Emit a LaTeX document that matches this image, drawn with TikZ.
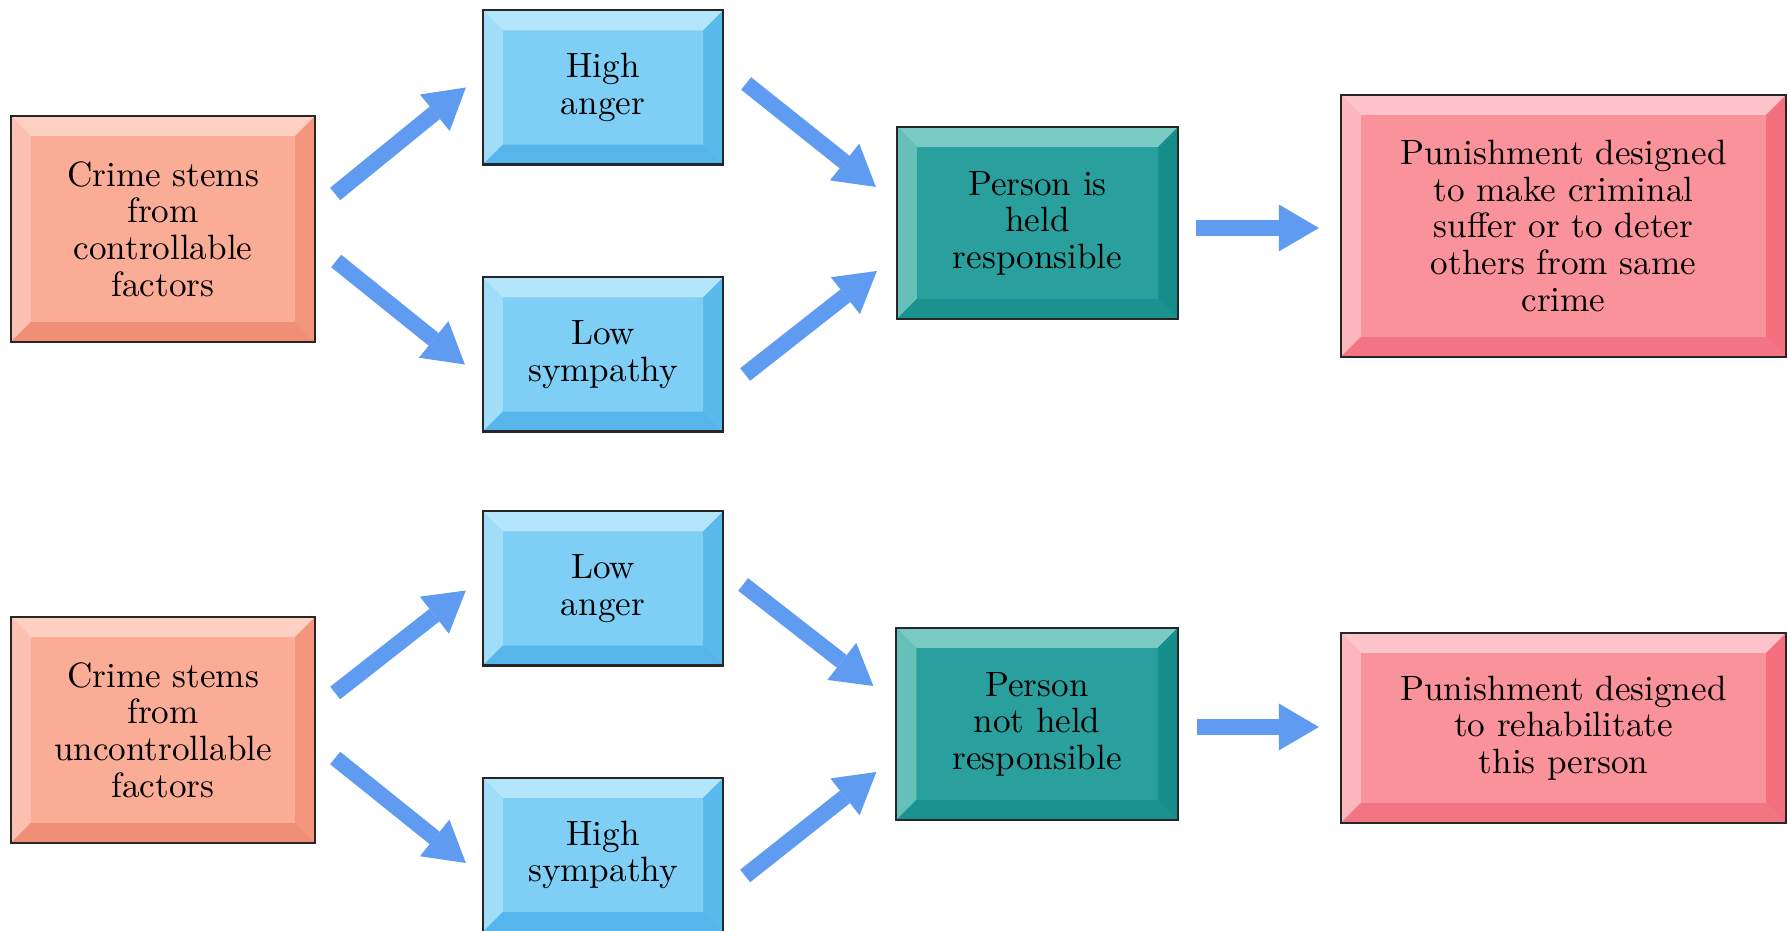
\documentclass[tikz,border=0pt]{standalone}
\usepackage{tikz}
\usetikzlibrary{arrows.meta,positioning}

\definecolor{salmonface}{RGB}{250,172,150}
\definecolor{salmontop}{RGB}{252,208,194}
\definecolor{salmonleft}{RGB}{251,192,175}
\definecolor{salmonright}{RGB}{244,150,126}
\definecolor{salmonbot}{RGB}{241,142,118}
\definecolor{blueface}{RGB}{126,206,245}
\definecolor{bluetop}{RGB}{180,230,251}
\definecolor{blueleft}{RGB}{160,221,249}
\definecolor{blueright}{RGB}{90,186,236}
\definecolor{bluebot}{RGB}{86,182,236}
\definecolor{tealface}{RGB}{42,160,158}
\definecolor{tealtop}{RGB}{122,202,196}
\definecolor{tealleft}{RGB}{102,192,186}
\definecolor{tealright}{RGB}{22,142,140}
\definecolor{tealbot}{RGB}{26,146,144}
\definecolor{pinkface}{RGB}{250,146,156}
\definecolor{pinktop}{RGB}{252,196,202}
\definecolor{pinkleft}{RGB}{252,182,190}
\definecolor{pinkright}{RGB}{245,112,126}
\definecolor{pinkbot}{RGB}{243,116,130}
\definecolor{arrowblue}{RGB}{95,155,240}

\begin{document}
\begin{tikzpicture}[x=0.01cm,y=0.01cm,>={Triangle[width=0.47cm,length=0.40cm,line width=0pt 0]}]
\tikzset{bevelbox/.style={draw=black!85,line width=0.6pt,fill=#1face,align=center,inner sep=0pt,
  font=\fontsize{10}{10.4}\selectfont,
  path picture={
    \fill[#1top] (path picture bounding box.north west) -- (path picture bounding box.north east)
      -- ([shift={(-0.2cm,-0.2cm)}]path picture bounding box.north east)
      -- ([shift={(0.2cm,-0.2cm)}]path picture bounding box.north west) -- cycle;
    \fill[#1left] (path picture bounding box.north west) -- (path picture bounding box.south west)
      -- ([shift={(0.2cm,0.2cm)}]path picture bounding box.south west)
      -- ([shift={(0.2cm,-0.2cm)}]path picture bounding box.north west) -- cycle;
    \fill[#1right] (path picture bounding box.north east) -- (path picture bounding box.south east)
      -- ([shift={(-0.2cm,0.2cm)}]path picture bounding box.south east)
      -- ([shift={(-0.2cm,-0.2cm)}]path picture bounding box.north east) -- cycle;
    \fill[#1bot] (path picture bounding box.south west) -- (path picture bounding box.south east)
      -- ([shift={(-0.2cm,0.2cm)}]path picture bounding box.south east)
      -- ([shift={(0.2cm,0.2cm)}]path picture bounding box.south west) -- cycle;
  }}}
\tikzstyle{cause}=[bevelbox=salmon,minimum width=3.04cm,minimum height=2.26cm]
\tikzstyle{feeling}=[bevelbox=blue,minimum width=2.40cm,minimum height=1.54cm]
\tikzstyle{judge}=[bevelbox=teal,minimum width=2.81cm,minimum height=1.92cm]
\tikzstyle{every edge}=[draw,color=arrowblue,line width=0.16cm,->]

\useasboundingbox (0,0) rectangle (1788,931);

% controllable
\node[cause] (A) at (163,702) {Crime stems\\from\\controllable\\factors};
\node[feeling] (B) at (603,843.5) {High\\anger};
\node[feeling] (C) at (603,576.5) {Low\\sympathy};
\node[judge] (D) at (1037.5,708) {Person is\\held\\responsible};
\node[bevelbox=pink,minimum width=4.45cm,minimum height=2.62cm] (E) at (1563.5,705)
  {Punishment designed\\to make criminal\\suffer or to deter\\others from same\\crime};

% uncontrollable
\node[cause] (F) at (163,201) {Crime stems\\from\\uncontrollable\\factors};
\node[feeling] (G) at (603,342.5) {Low\\anger};
\node[feeling] (H) at (603,76) {High\\sympathy};
\node[judge] (I) at (1037,207) {Person\\not held\\responsible};
\node[bevelbox=pink,minimum width=4.45cm,minimum height=1.90cm] (J) at (1563.5,203)
  {Punishment designed\\to rehabilitate\\this person};

\path
([shift={(19,35)}]A.east) edge ([shift={(-16,0)}]B.west)
([shift={(20,-32)}]A.east) edge ([shift={(-17,-10)}]C.west)
([shift={(22,4)}]B.east) edge ([shift={(-20,36)}]D.west)
([shift={(21,-20)}]C.east) edge ([shift={(-19,-48)}]D.west)
([shift={(17,-5)}]D.east) edge ([shift={(-21,-2)}]E.west)
([shift={(19,37)}]F.east) edge ([shift={(-16,-2)}]G.west)
([shift={(19,-28)}]F.east) edge ([shift={(-16,-8)}]H.west)
([shift={(19,4)}]G.east) edge ([shift={(-22,38)}]I.west)
([shift={(21,-21)}]H.east) edge ([shift={(-19,-48)}]I.west)
([shift={(18,-3)}]I.east) edge ([shift={(-21,1)}]J.west);
\end{tikzpicture}
\end{document}
